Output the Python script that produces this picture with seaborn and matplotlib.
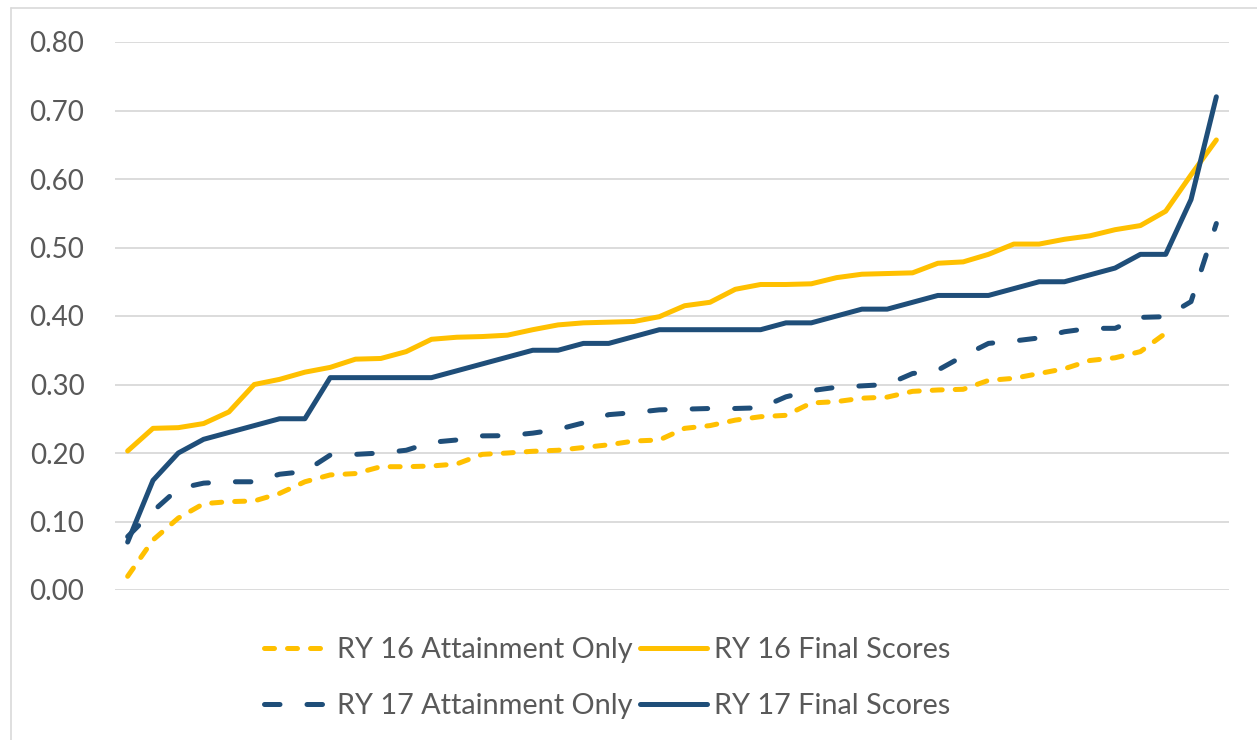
import numpy as np
import pandas as pd
import seaborn as sns
import matplotlib.pyplot as plt
from matplotlib.lines import Line2D

# Dados (44 posições ordenadas)
ry16_attainment = [0.02, 0.073, 0.105, 0.126, 0.129, 0.13, 0.141, 0.158, 0.168, 0.17,
                   0.18, 0.18, 0.181, 0.184, 0.198, 0.20, 0.2025, 0.204, 0.208, 0.212,
                   0.2175, 0.219, 0.236, 0.24, 0.248, 0.253, 0.255, 0.273, 0.275, 0.28,
                   0.2816, 0.29, 0.292, 0.293, 0.306, 0.309, 0.316, 0.323, 0.335, 0.339,
                   0.348, 0.375, np.nan, np.nan]
ry16_final = [0.203, 0.236, 0.237, 0.243, 0.26, 0.30, 0.3075, 0.318, 0.325, 0.337,
              0.338, 0.348, 0.366, 0.369, 0.37, 0.372, 0.38, 0.387, 0.39, 0.391,
              0.392, 0.399, 0.415, 0.42, 0.439, 0.446, 0.446, 0.447, 0.456, 0.461,
              0.462, 0.463, 0.477, 0.479, 0.49, 0.505, 0.505, 0.512, 0.517, 0.526,
              0.532, 0.553, 0.606, 0.657]
ry17_attainment = [0.078, 0.115, 0.148, 0.156, 0.158, 0.158, 0.169, 0.173, 0.197, 0.198,
                   0.20, 0.204, 0.2156, 0.219, 0.225, 0.2253, 0.229, 0.2345, 0.244, 0.256,
                   0.259, 0.263, 0.264, 0.265, 0.265, 0.266, 0.282, 0.291, 0.296, 0.298,
                   0.30, 0.316, 0.321, 0.3415, 0.36, 0.3635, 0.368, 0.377, 0.382, 0.382,
                   0.398, 0.399, 0.421, 0.535]
ry17_final = [0.07, 0.16, 0.20, 0.22, 0.23, 0.24, 0.25, 0.25, 0.31, 0.31,
              0.31, 0.31, 0.31, 0.32, 0.33, 0.34, 0.35, 0.35, 0.36, 0.36,
              0.37, 0.38, 0.38, 0.38, 0.38, 0.38, 0.39, 0.39, 0.40, 0.41,
              0.41, 0.42, 0.43, 0.43, 0.43, 0.44, 0.45, 0.45, 0.46, 0.47,
              0.49, 0.49, 0.57, 0.72]

series_names = ["RY 16 Attainment Only", "RY 16 Final Scores",
                "RY 17 Attainment Only", "RY 17 Final Scores"]
yticks = [0.0, 0.1, 0.2, 0.3, 0.4, 0.5, 0.6, 0.7, 0.8]

amarelo = "#FFC000"
azul = "#1F4E79"
cinza = "#595959"

# Montar tabela longa
valores = [ry16_attainment, ry16_final, ry17_attainment, ry17_final]
frames = []
for nome, v in zip(series_names, valores):
    frames.append(pd.DataFrame({"pos": np.arange(len(v)), "valor": v, "serie": nome}))
df = pd.concat(frames, ignore_index=True).dropna()

sns.set_style("white")
plt.rcParams["font.family"] = ["Lato", "DejaVu Sans"]

fig = plt.figure(figsize=(12.57, 7.4), dpi=100)
ax = fig.add_axes([115 / 1257, 1 - 590 / 740, (1229 - 115) / 1257, (590 - 42) / 740])

paleta = {series_names[0]: amarelo, series_names[1]: amarelo,
          series_names[2]: azul, series_names[3]: azul}
tracos = {series_names[0]: (2.0, 2.6), series_names[1]: "",
          series_names[2]: (3.1, 5.4), series_names[3]: ""}

sns.lineplot(data=df, x="pos", y="valor", hue="serie", style="serie",
             hue_order=series_names, style_order=series_names,
             palette=paleta, dashes=tracos, linewidth=3.6, ax=ax, legend=False)

for ln in ax.lines:
    ln.set_dash_capstyle("round")
    ln.set_solid_capstyle("round")
    ln.set_solid_joinstyle("round")

ax.set_xlim(-0.5, 43.5)
ax.set_ylim(0, 0.8)
ax.set_yticks(yticks)
ax.set_yticklabels([f"{t:.2f}" for t in yticks])
ax.set_xticks([])
ax.set_xlabel("")
ax.set_ylabel("")
ax.grid(axis="y", color="#D9D9D9", linewidth=1.3)
ax.set_axisbelow(True)
for s in ax.spines.values():
    s.set_visible(False)
ax.tick_params(axis="y", length=0, pad=22, labelsize=20, labelcolor=cinza)

# Legenda
handles = [Line2D([], [], color=amarelo, lw=3.6, linestyle=(0, (2.0, 2.6)), dash_capstyle="round"),
           Line2D([], [], color=azul, lw=3.6, linestyle=(0, (3.1, 5.4)), dash_capstyle="round"),
           Line2D([], [], color=amarelo, lw=3.6, solid_capstyle="round"),
           Line2D([], [], color=azul, lw=3.6, solid_capstyle="round")]
labels = [series_names[0], series_names[2], series_names[1], series_names[3]]
fig.legend(handles, labels, ncol=2, loc="center", bbox_to_anchor=(607 / 1257, 1 - 678 / 740),
           frameon=False, fontsize=20.8, labelcolor=cinza, handlelength=2.3,
           handletextpad=0.25, columnspacing=0.25, labelspacing=1.05)

# Borda do gráfico
fig.add_artist(Line2D([11 / 1257, 11 / 1257], [0, 1 - 8 / 740], transform=fig.transFigure,
                      color="#D9D9D9", lw=1.2))
fig.add_artist(Line2D([11 / 1257, 1], [1 - 8 / 740, 1 - 8 / 740], transform=fig.transFigure,
                      color="#D9D9D9", lw=1.2))

plt.savefig("out.png", dpi=100)
plt.close()
